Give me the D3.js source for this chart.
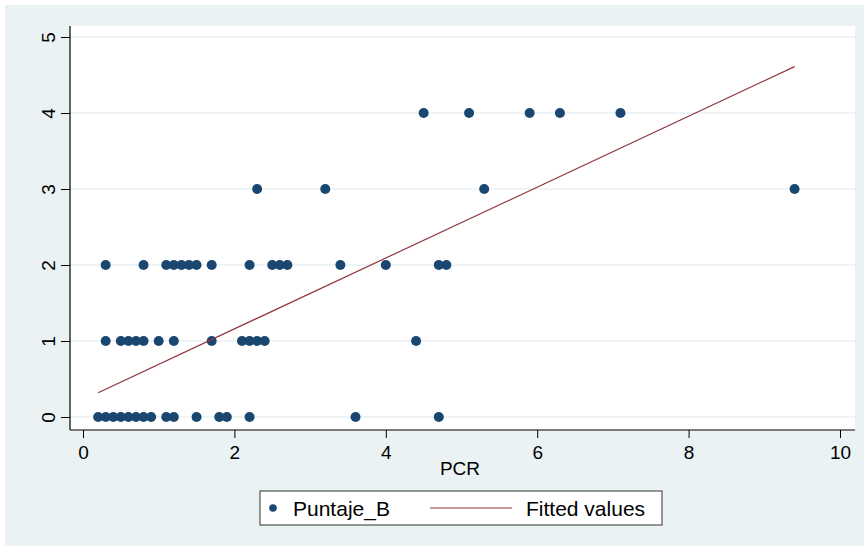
<!DOCTYPE html>
<html>
<head>
<meta charset="utf-8">
<script src="https://cdn.jsdelivr.net/npm/d3@7"></script>
<style>
  html, body { margin: 0; padding: 0; background: #ffffff; }
  svg { display: block; font-family: "Liberation Sans", Arial, sans-serif; }
</style>
</head>
<body>
<svg id="chart" width="864" height="546"></svg>
<script>
// Observations: PCR (x) and Puntaje_B (y), grouped by score row
const pcr = [
  0.2, 0.3, 0.4, 0.5, 0.6, 0.7, 0.8, 0.9, 1.1, 1.2, 1.5, 1.8, 1.9, 2.2, 3.6, 4.7,
  0.3, 0.5, 0.6, 0.7, 0.8, 1.0, 1.2, 1.7, 2.1, 2.2, 2.3, 2.4, 4.4,
  0.3, 0.8, 1.1, 1.2, 1.3, 1.4, 1.5, 1.7, 2.2, 2.5, 2.6, 2.7, 3.4, 4.0, 4.7, 4.8,
  2.3, 3.2, 5.3, 9.4,
  4.5, 5.1, 5.9, 6.3, 7.1
];
const puntaje = [
  0, 0, 0, 0, 0, 0, 0, 0, 0, 0, 0, 0, 0, 0, 0, 0,
  1, 1, 1, 1, 1, 1, 1, 1, 1, 1, 1, 1, 1,
  2, 2, 2, 2, 2, 2, 2, 2, 2, 2, 2, 2, 2, 2, 2, 2,
  3, 3, 3, 3,
  4, 4, 4, 4, 4
];
// Linear fit endpoints (fitted values at min and max PCR)
const fitX = [0.2, 9.4];
const fitY = [0.32, 4.61];

const xTicks = [0, 2, 4, 6, 8, 10];
const yTicks = [0, 1, 2, 3, 4, 5];
const xTitle = "PCR";
const legendLabels = ["Puntaje_B", "Fitted values"];

const navy = "#1a476f";
const maroon = "#90353b";
const bg = "#eaf2f3";

const svg = d3.select("#chart");

// outer graph region
svg.append("rect").attr("x", 5).attr("y", 5).attr("width", 859).attr("height", 541).attr("fill", bg);

const plot = { left: 70, top: 26, right: 855, bottom: 430 };
svg.append("rect")
  .attr("x", plot.left).attr("y", plot.top)
  .attr("width", plot.right - plot.left).attr("height", plot.bottom - plot.top)
  .attr("fill", "#ffffff");

const x = d3.scaleLinear().domain([0, 10]).range([83, 840]);
const y = d3.scaleLinear().domain([0, 5]).range([417, 37]);

// horizontal grid lines
svg.append("g").selectAll("line").data(yTicks).join("line")
  .attr("x1", plot.left).attr("x2", plot.right)
  .attr("y1", d => y(d)).attr("y2", d => y(d))
  .attr("stroke", bg).attr("stroke-width", 1.5);

// y axis
const gy = svg.append("g").attr("transform", `translate(${plot.left},0)`)
  .call(d3.axisLeft(y).tickValues(yTicks).tickSize(9).tickFormat(d3.format("d")));
gy.select(".domain").remove();
gy.selectAll(".tick line").attr("stroke", "#000");
gy.selectAll(".tick text")
  .attr("transform", "rotate(-90)")
  .attr("x", 0).attr("y", -15).attr("dy", 0)
  .attr("text-anchor", "middle")
  .attr("font-size", 19).attr("fill", "#000")
  .attr("font-family", "Liberation Sans, Arial, sans-serif");

// x axis
const gx = svg.append("g").attr("transform", `translate(0,${plot.bottom})`)
  .call(d3.axisBottom(x).tickValues(xTicks).tickSize(8).tickFormat(d3.format("d")));
gx.select(".domain").remove();
gx.selectAll(".tick line").attr("stroke", "#000");
gx.selectAll(".tick text")
  .attr("y", 29).attr("dy", 0)
  .attr("font-size", 19).attr("fill", "#000")
  .attr("font-family", "Liberation Sans, Arial, sans-serif");

// axis lines
svg.append("line").attr("x1", plot.left).attr("x2", plot.left)
  .attr("y1", plot.top).attr("y2", plot.bottom).attr("stroke", "#000").attr("stroke-width", 1.2);
svg.append("line").attr("x1", plot.left).attr("x2", plot.right)
  .attr("y1", plot.bottom).attr("y2", plot.bottom).attr("stroke", "#000").attr("stroke-width", 1.2);

svg.append("text").attr("x", 460).attr("y", 475).attr("text-anchor", "middle")
  .attr("font-size", 19).attr("fill", "#000").text(xTitle);

// scatter points
svg.append("g").selectAll("circle").data(pcr).join("circle")
  .attr("cx", d => x(d)).attr("cy", (d, i) => y(puntaje[i]))
  .attr("r", 5).attr("fill", navy);

// fitted line
const fit = fitX.map((d, i) => [d, fitY[i]]);
svg.append("path").datum(fit)
  .attr("d", d3.line().x(d => x(d[0])).y(d => y(d[1])))
  .attr("fill", "none").attr("stroke", maroon).attr("stroke-width", 1.2);

// legend
const lg = svg.append("g");
lg.append("rect").attr("x", 260).attr("y", 491).attr("width", 402).attr("height", 34)
  .attr("fill", "#fff").attr("stroke", "#333").attr("stroke-width", 1);
lg.append("circle").attr("cx", 273).attr("cy", 508).attr("r", 3.8).attr("fill", navy);
lg.append("text").attr("x", 293).attr("y", 516).attr("font-size", 21).attr("fill", "#000").text(legendLabels[0]);
lg.append("line").attr("x1", 430).attr("x2", 512).attr("y1", 508).attr("y2", 508)
  .attr("stroke", maroon).attr("stroke-width", 1.2);
lg.append("text").attr("x", 526).attr("y", 516).attr("font-size", 21).attr("fill", "#000").text(legendLabels[1]);
</script>
</body>
</html>
